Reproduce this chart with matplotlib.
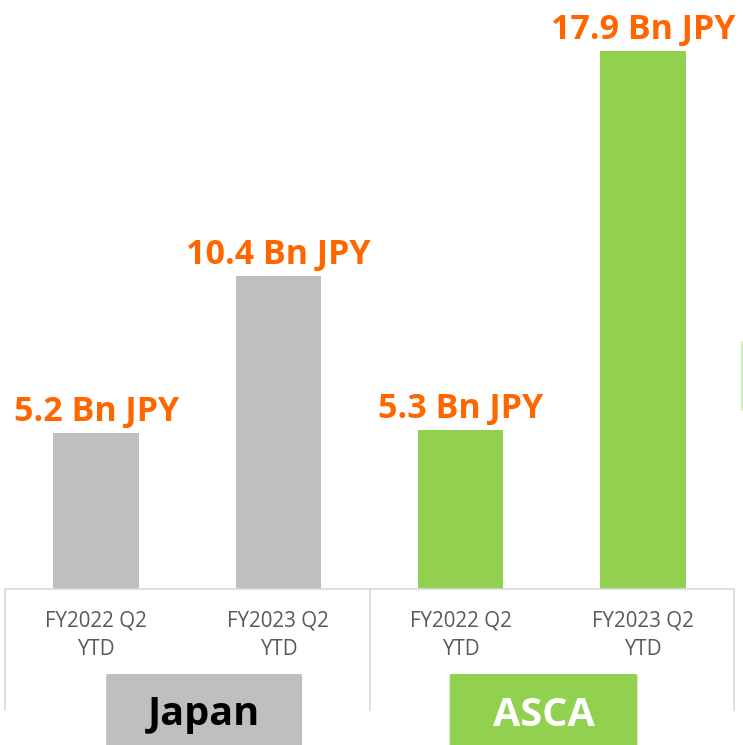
import matplotlib.pyplot as plt
from matplotlib.patches import FancyBboxPatch

plt.rcParams['font.family'] = ['Open Sans', 'DejaVu Sans']

# data
groups = ["Japan", "ASCA"]
periods = ["FY2022 Q2\nYTD", "FY2023 Q2\nYTD", "FY2022 Q2\nYTD", "FY2023 Q2\nYTD"]
values = [5.2, 10.4, 5.3, 17.9]
value_labels = ["5.2 Bn JPY", "10.4 Bn JPY", "5.3 Bn JPY", "17.9 Bn JPY"]

gray = "#bfbfbf"
green = "#92d050"
orange = "#ff6600"
colors = [gray, gray, green, green]

W, H = 743, 745
fig = plt.figure(figsize=(W / 100, H / 100), dpi=100)
# axes: baseline at y=589 px from top, x from 5 to 734 px
ax = fig.add_axes([5 / W, (H - 589) / H, 729 / W, 589 / H])
ax.set_xlim(-0.5, 3.5)
ax.set_ylim(0, 589 / 30.06)
ax.axis("off")

x = range(len(values))
ax.bar(x, values, width=0.47, color=colors, zorder=2)
for xi, v, lab in zip(x, values, value_labels):
    ax.annotate(lab, (xi, v), xytext=(0, 3), textcoords="offset points",
                ha="center", va="bottom", fontsize=24.5, fontweight="bold",
                color=orange)

# category axis
tr = ax.get_xaxis_transform()
ax.plot([-0.5, 3.5], [0, 0], transform=tr, color="#d9d9d9", lw=1.2, clip_on=False)
for sx in [-0.5, 1.5, 3.5]:
    ax.plot([sx, sx], [0, -121 / 589], transform=tr, color="#d9d9d9", lw=1.2,
            clip_on=False)
for xi, p in zip(x, periods):
    ax.text(xi, -46 / 589, p, transform=tr, ha="center", va="center",
            fontsize=14.8, color="#595959", linespacing=1.5)

# group boxes
box_edges = [(0.055, 1.13), (1.94, 2.97)]
box_cols = [gray, green]
txt_cols = ["black", "white"]
for g, (x0, x1), bc, tc in zip(groups, box_edges, box_cols, txt_cols):
    box = FancyBboxPatch((x0, -(745 - 589 + 10) / 589), x1 - x0, (745 - 674 + 10) / 589,
                         boxstyle="round,pad=0,rounding_size=0.01",
                         transform=tr, facecolor=bc, edgecolor="none",
                         clip_on=False, mutation_aspect=0.3)
    ax.add_patch(box)
    ax.text((x0 + x1) / 2, -(715 - 589) / 589, g, transform=tr, ha="center",
            va="center", fontsize=28.5, fontweight="bold", color=tc)

# cut-off element at right edge
fig.add_artist(plt.Line2D([741.5 / W, 741.5 / W], [(H - 342) / H, (H - 410) / H],
                          color="#d3edb8", lw=1.5))

fig.savefig("out.png", dpi=100)
